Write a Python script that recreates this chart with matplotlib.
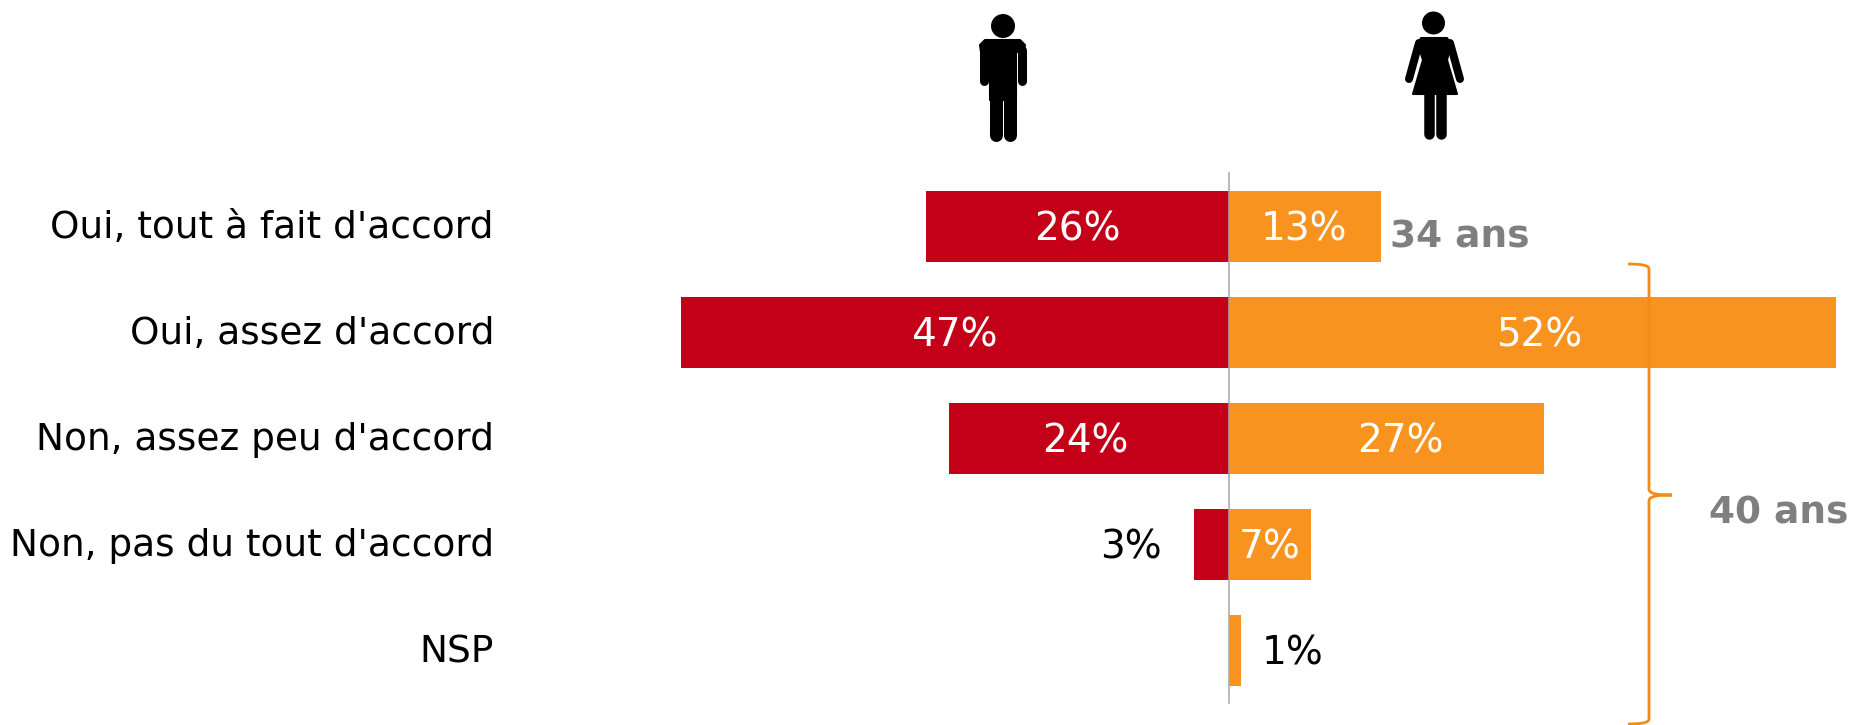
import matplotlib
matplotlib.use('Agg')
import matplotlib.pyplot as plt
from matplotlib.patches import Circle, PathPatch, Polygon
from matplotlib.path import Path
from matplotlib.transforms import Affine2D

categories = ["Oui, tout à fait d'accord", "Oui, assez d'accord", "Non, assez peu d'accord",
              "Non, pas du tout d'accord", "NSP"]
hommes = [26, 47, 24, 3, 0]
femmes = [13, 52, 27, 7, 1]

# decalage horizontal des etiquettes, en pixels
hommes_dx = [0, 0, -4, 0, 0]
femmes_dx = [-1, 7, 14, 0, 0]

RED = '#C40018'
ORANGE = '#F7931E'
GREY = '#7F7F7F'
W, H = 1851, 725
X0 = 1229       # position du zero
PX_PER_PCT = 11.67
Y0 = 226.5
ROW = 106

plt.rcParams['font.family'] = ['DejaVu Sans']
fig = plt.figure(figsize=(W / 100, H / 100), dpi=100)
ax = fig.add_axes([0, 0, 1, 1])
ax.set_xlim(-X0 / PX_PER_PCT, (W - X0) / PX_PER_PCT)
ax.set_ylim((H - Y0) / ROW, -Y0 / ROW)
ax.axis('off')

# coordonnees en pixels, origine en haut a gauche
px = Affine2D().scale(1, -1).translate(0, H)

rows = range(len(categories))
ax.barh(rows, [-v for v in hommes], height=0.67, color=RED, zorder=2)
ax.barh(rows, femmes, height=0.67, color=ORANGE, zorder=2)
ax.plot([X0, X0], [173, 703], color='#A6A6A6', lw=1.1, transform=px, zorder=3)

for i, cat in enumerate(categories):
    ax.text(494, Y0 + i * ROW + 2, cat, transform=px, ha='right', va='center', fontsize=27, color='black')

# etiquettes : blanc dans les barres, noir a l'exterieur
for i, v in enumerate(hommes):
    y = Y0 + i * ROW + 3
    if v >= 10:
        ax.text(X0 - v / 2 * PX_PER_PCT + hommes_dx[i], y, f'{v}%', transform=px, ha='center', va='center',
                fontsize=28, color='white', zorder=4)
    elif v > 0:
        ax.text(1131, y, f'{v}%', transform=px, ha='center', va='center', fontsize=28, color='black', zorder=4)
for i, v in enumerate(femmes):
    y = Y0 + i * ROW + 3
    if v >= 5:
        ax.text(X0 + v / 2 * PX_PER_PCT + femmes_dx[i], y, f'{v}%', transform=px, ha='center', va='center',
                fontsize=28, color='white', zorder=4)
    else:
        ax.text(1293, y, f'{v}%', transform=px, ha='center', va='center', fontsize=28, color='black', zorder=4)

ax.text(1390, 238, '34 ans', transform=px, ha='left', va='center', fontsize=27, fontweight='bold', color=GREY)
ax.text(1709, 513, '40 ans', transform=px, ha='left', va='center', fontsize=27, fontweight='bold', color=GREY)

# accolade
brace = Path(
    [(1628, 264), (1640, 264), (1649, 265), (1649, 269),
     (1649, 489), (1649, 494), (1658, 495), (1672, 495),
     (1658, 495), (1649, 496), (1649, 501),
     (1649, 719), (1649, 723), (1640, 724), (1628, 724)],
    [Path.MOVETO, Path.CURVE4, Path.CURVE4, Path.CURVE4,
     Path.LINETO, Path.CURVE4, Path.CURVE4, Path.CURVE4,
     Path.CURVE4, Path.CURVE4, Path.CURVE4,
     Path.LINETO, Path.CURVE4, Path.CURVE4, Path.CURVE4])
ax.add_patch(PathPatch(brace, fc='none', ec='#F28C14', lw=2.0, transform=px, zorder=5))


def figure_part(points):
    ax.add_patch(Polygon(points, closed=True, fc='black', ec='black', lw=1.5, joinstyle='round',
                         transform=px, zorder=5))


def limb(x1, y1, x2, y2, width):
    ax.plot([x1, x2], [y1, y2], color='black', lw=width * 0.72, solid_capstyle='round', transform=px, zorder=5)


# homme
ax.add_patch(Circle((1003, 26), 12, fc='black', ec='none', transform=px, zorder=5))
figure_part([(985, 40), (1020, 40), (1025, 45), (1024, 52), (981, 52), (980, 45)])
figure_part([(989.5, 50), (1015.5, 50), (1015.5, 100), (989.5, 100)])
limb(983.5, 50, 983.5, 81, 9)
limb(1021.5, 50, 1021.5, 81, 9)
limb(995.5, 95, 995.5, 134.5, 13)
limb(1009.5, 95, 1009.5, 134.5, 13)

# femme
ax.add_patch(Circle((1433.5, 23), 11.5, fc='black', ec='none', transform=px, zorder=5))
figure_part([(1421, 38), (1447, 38), (1451, 44), (1447, 60), (1457, 94), (1413, 94), (1423, 60), (1418, 44)])
limb(1419, 43, 1409, 79, 8)
limb(1450, 43, 1460, 79, 8)
limb(1428.5, 92, 1428.5, 134, 10.5)
limb(1440.5, 92, 1440.5, 134, 10.5)

fig.savefig('out.png', dpi=100)
